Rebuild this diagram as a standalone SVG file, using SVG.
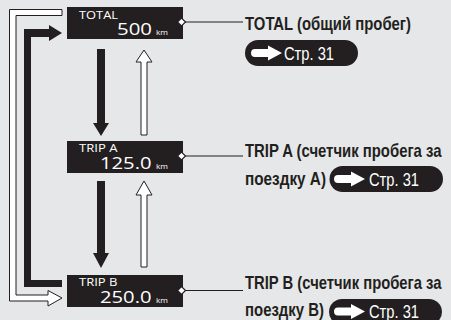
<svg xmlns="http://www.w3.org/2000/svg" width="451" height="320" viewBox="0 0 451 320">
  <defs>
    <style>
      .bg { fill: #e6e7e8; }
      .panel { fill: #231f20; }
      .lcd-s { font-family: "Open Sans", "Noto Sans", sans-serif; font-size: 10.5px; fill: #ffffff; }
      .lcd-l { font-family: "Open Sans", "Noto Sans", sans-serif; font-size: 17px; fill: #ffffff; }
      .lcd-u { font-family: "Open Sans", "Noto Sans", sans-serif; font-size: 8px; fill: #ffffff; }
      .lbl { font-family: "Liberation Sans", Arial, sans-serif; font-weight: bold; font-size: 18.5px; fill: #231f20; }
      .ref { font-family: "Liberation Sans", Arial, sans-serif; font-size: 18.5px; fill: #ffffff; }
      .lead { stroke: #231f20; stroke-width: 1.2; fill: none; }
      .dia { fill: #ffffff; stroke: #231f20; stroke-width: 1.2; }
      .blk { fill: #231f20; }
      .wht { fill: #ffffff; stroke: #231f20; stroke-width: 1; stroke-linejoin: miter; }
    </style>
    <!-- small pointing arrow used inside the page-reference pills -->
    <path id="ptr" d="M4 -4 H17 V-7.5 L31 0 L17 7.5 V4 H4 A4 4 0 0 1 4 -4 Z" fill="#ffffff"/>
  </defs>

  <rect class="bg" x="0" y="0" width="451" height="320"/>

  <!-- connectors between display modes -->
  <g id="connectors">
    <!-- TOTAL -> TRIP A -->
    <path class="blk" d="M97 49 H105 V123 H109 L101 136 L93 123 H97 Z"/>
    <!-- TRIP A -> TRIP B -->
    <path class="blk" d="M97 181 H105 V253 H109 L101 268 L93 253 H97 Z"/>
    <!-- TRIP A -> TOTAL -->
    <path class="wht" d="M141 135 V62 H136 L144 50 L152 62 H147 V135 Z"/>
    <!-- TRIP B -> TRIP A -->
    <path class="wht" d="M141 267 V195 H136 L144 181 L152 195 H147 V267 Z"/>
    <!-- TRIP B -> TOTAL (black loop) -->
    <path class="blk" d="M62 33 L49 25 V29 H24 V287 H62 V280 H31 V37 H49 V41 Z"/>
    <!-- TOTAL -> TRIP B (white loop) -->
    <path class="wht" d="M62 9.5 H9.5 V301 H48 V306 L62 298 L48 290.5 V295 H16 V15.5 H62 Z"/>
    <!-- leader lines -->
    <line class="lead" x1="185" y1="22" x2="243" y2="22"/>
    <line class="lead" x1="185" y1="156" x2="243" y2="156"/>
    <line class="lead" x1="185" y1="290.5" x2="243" y2="290.5"/>
  </g>

  <!-- TOTAL display -->
  <g id="total">
    <rect class="panel" x="67" y="7" width="116" height="32"/>
    <text class="lcd-s" x="79" y="19" textLength="39" lengthAdjust="spacingAndGlyphs">TOTAL</text>
    <text class="lcd-l" x="117" y="35" textLength="35" lengthAdjust="spacingAndGlyphs">500</text>
    <text class="lcd-u" x="156" y="35" textLength="12" lengthAdjust="spacingAndGlyphs">km</text>
    <path class="dia" d="M177.5 22 L181.5 18 L185.5 22 L181.5 26 Z"/>
  </g>

  <!-- TRIP A display -->
  <g id="trip-a">
    <rect class="panel" x="67" y="141" width="116" height="32"/>
    <text class="lcd-s" x="79" y="152" textLength="38.5" lengthAdjust="spacingAndGlyphs">TRIP A</text>
    <text class="lcd-l" x="100" y="169" textLength="51.5" lengthAdjust="spacingAndGlyphs">125.0</text>
    <text class="lcd-u" x="156" y="169" textLength="12" lengthAdjust="spacingAndGlyphs">km</text>
    <path class="dia" d="M177.5 156 L181.5 152 L185.5 156 L181.5 160 Z"/>
  </g>

  <!-- TRIP B display -->
  <g id="trip-b">
    <rect class="panel" x="67" y="275" width="116" height="32"/>
    <text class="lcd-s" x="79" y="285.5" textLength="38.5" lengthAdjust="spacingAndGlyphs">TRIP B</text>
    <text class="lcd-l" x="100" y="302.5" textLength="51.5" lengthAdjust="spacingAndGlyphs">250.0</text>
    <text class="lcd-u" x="156" y="302.5" textLength="12" lengthAdjust="spacingAndGlyphs">km</text>
    <path class="dia" d="M177.5 290.5 L181.5 286.5 L185.5 290.5 L181.5 294.5 Z"/>
  </g>

  <!-- TOTAL label -->
  <g id="label-total">
    <text class="lbl" x="245" y="30" textLength="166" lengthAdjust="spacingAndGlyphs">TOTAL (общий пробег)</text>
    <rect class="panel" x="245" y="40" width="113" height="26" rx="13"/>
    <use href="#ptr" x="251" y="53"/>
    <text class="ref" x="284" y="59.5" textLength="50" lengthAdjust="spacingAndGlyphs">Стр. 31</text>
  </g>

  <!-- TRIP A label -->
  <g id="label-trip-a">
    <text class="lbl" x="245" y="157" textLength="196.5" lengthAdjust="spacingAndGlyphs">TRIP A (счетчик пробега за</text>
    <text class="lbl" x="245" y="185" textLength="81" lengthAdjust="spacingAndGlyphs">поездку A)</text>
    <rect class="panel" x="329.5" y="166" width="113.5" height="26" rx="13"/>
    <use href="#ptr" x="334" y="179"/>
    <text class="ref" x="369" y="185.5" textLength="50" lengthAdjust="spacingAndGlyphs">Стр. 31</text>
  </g>

  <!-- TRIP B label -->
  <g id="label-trip-b">
    <text class="lbl" x="245" y="289" textLength="196.5" lengthAdjust="spacingAndGlyphs">TRIP B (счетчик пробега за</text>
    <text class="lbl" x="245" y="316" textLength="79" lengthAdjust="spacingAndGlyphs">поездку B)</text>
    <rect class="panel" x="329" y="299" width="113" height="26" rx="13"/>
    <use href="#ptr" x="334" y="311.5"/>
    <text class="ref" x="369" y="317.5" textLength="50" lengthAdjust="spacingAndGlyphs">Стр. 31</text>
  </g>
</svg>
